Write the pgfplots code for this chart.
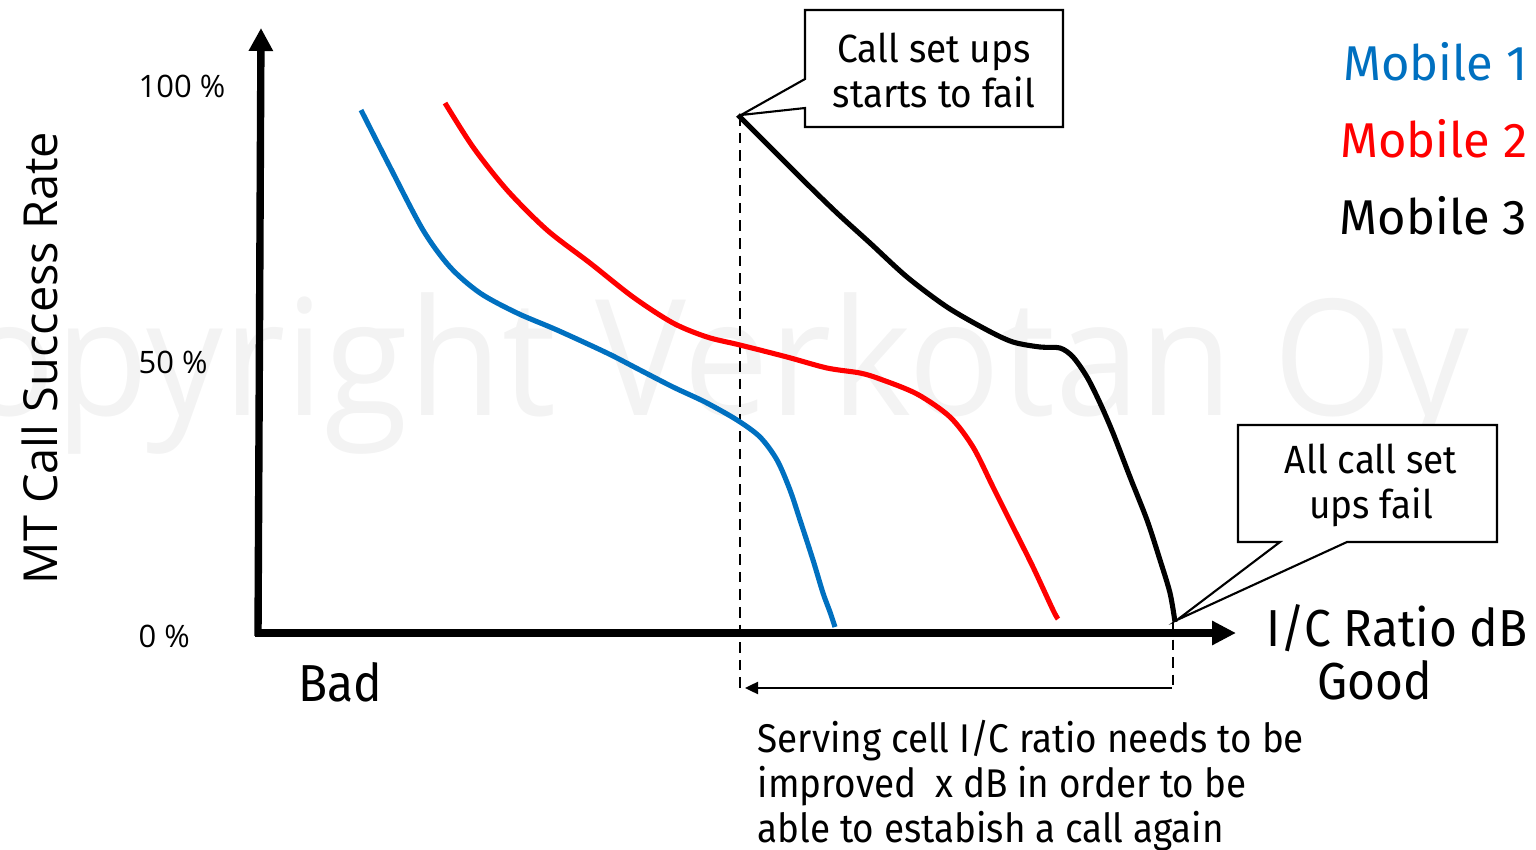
\documentclass[border=0pt]{standalone}
\usepackage{fontspec}
\setmainfont{Fira Sans}
\newfontfamily\osans{Open Sans}
\usepackage{pgfplots}
\pgfplotsset{compat=1.18}
\usetikzlibrary{arrows.meta}
\definecolor{mone}{RGB}{0,112,192}
\definecolor{mtwo}{RGB}{255,0,0}
\definecolor{wm}{RGB}{243,243,243}
\begin{document}
\begin{tikzpicture}
\useasboundingbox (0,0) rectangle (15.36cm,8.5cm);
\begin{axis}[at={(0,0)}, anchor=south west, scale only axis,
  width=15.36cm, height=8.5cm, xmin=0, xmax=1536, ymin=0, ymax=850,
  y dir=reverse, hide axis, clip=false]
% watermark
\node[anchor=base east, inner sep=0pt, text=wm, xscale=0.945,
  font=\osans\fontsize{46}{46}\selectfont] at (1470,415) {Copyright Verkotan Oy};
% axes arrows
\draw[line width=2.1pt, -{Triangle[length=0.23cm,width=0.23cm]}] (258,636) -- (261,28);
\draw[line width=2.3pt, -{Triangle[length=0.24cm,width=0.23cm]}] (255,633) -- (1236,633);
% dashed guides
\draw[line width=0.4pt, dash pattern=on 3pt off 2pt] (740,115) -- (740,690);
\draw[line width=0.4pt, dash pattern=on 3pt off 2pt] (1173,622) -- (1173,690);
\draw[line width=0.7pt, -{Triangle[length=0.13cm,width=0.12cm]}] (1172,688) -- (745,688);
% curves
\addplot[color=mone, line width=1.45pt, smooth] coordinates {
(361,110) (390,167) (423,230) (450,267) (480,293) (517,313) (557,330)
(607,353) (640,370) (673,387) (705,402) (737,420) (760,437) (777,460)
(790,490) (800,520) (813,560) (823,593) (830,612) (835,627)};
\addplot[color=mtwo, line width=1.45pt, smooth] coordinates {
(445,103) (473,147) (507,190) (547,230) (590,263) (633,297) (673,323)
(707,337) (740,345) (787,357) (827,368) (860,373) (880,379) (917,394)
(950,417) (973,447) (993,487) (1013,527) (1033,567) (1053,610) (1058,619)};
\addplot[color=black, line width=1.45pt, smooth] coordinates {
(738,115) (770,147) (803,180) (837,213) (870,243) (907,277) (947,307)
(987,330) (1013,342) (1040,347) (1060,348) (1073,357) (1087,377)
(1100,403) (1113,433) (1130,477) (1147,520) (1160,560) (1170,593) (1175,622)};
% callouts
\draw[line width=0.6pt, fill=white] (805,10) -- (1063,10) -- (1063,127) -- (805,127)
  -- (805,108) -- (741,115) -- (805,79) -- cycle;
\node[align=center, inner sep=0pt, xscale=0.94, font=\fontsize{11.2}{12.8}\selectfont] at (934,70)
  {Call set ups\\starts to fail};
\draw[line width=0.6pt, fill=white] (1238,425) -- (1497,425) -- (1497,542) -- (1347,542)
  -- (1177,620) -- (1280,542) -- (1238,542) -- cycle;
\node[align=center, inner sep=0pt, xscale=0.94, font=\fontsize{11.2}{12.8}\selectfont] at (1371,485)
  {All call set\\ups fail};
% labels
\node[anchor=east, inner sep=0pt, text=mone, font=\fontsize{13.9}{13.9}\selectfont] at (1528,62) {Mobile 1};
\node[anchor=east, inner sep=0pt, text=mtwo, font=\fontsize{13.9}{13.9}\selectfont] at (1528,139) {Mobile 2};
\node[anchor=east, inner sep=0pt, text=black, font=\fontsize{13.9}{13.9}\selectfont] at (1528,216) {Mobile 3};
\node[anchor=east, inner sep=0pt, xscale=0.92, font=\fontsize{14.8}{14.8}\selectfont] at (1528,628) {I/C Ratio dB};
\node[inner sep=0pt, xscale=0.92, font=\fontsize{14.8}{14.8}\selectfont] at (1375,680) {Good};
\node[inner sep=0pt, xscale=0.92, font=\fontsize{14.8}{14.8}\selectfont] at (340,682) {Bad};
\node[rotate=90, inner sep=0pt, font=\osans\fontsize{13.35}{13.35}\selectfont] at (40,358) {MT Call Success Rate};
\node[anchor=west, inner sep=0pt, font=\osans\fontsize{8.8}{8.8}\selectfont] at (138,86) {100 \%};
\node[anchor=west, inner sep=0pt, font=\osans\fontsize{8.8}{8.8}\selectfont] at (138,362) {50 \%};
\node[anchor=west, inner sep=0pt, font=\osans\fontsize{8.8}{8.8}\selectfont] at (138,636) {0 \%};
\node[anchor=north west, align=left, inner sep=0pt, xscale=0.92, font=\fontsize{11.4}{12.8}\selectfont] at (757,719)
  {Serving cell I/C ratio needs to be\\improved\ \ x dB in order to be\\able to estabish a call again};
\end{axis}
\end{tikzpicture}
\end{document}
